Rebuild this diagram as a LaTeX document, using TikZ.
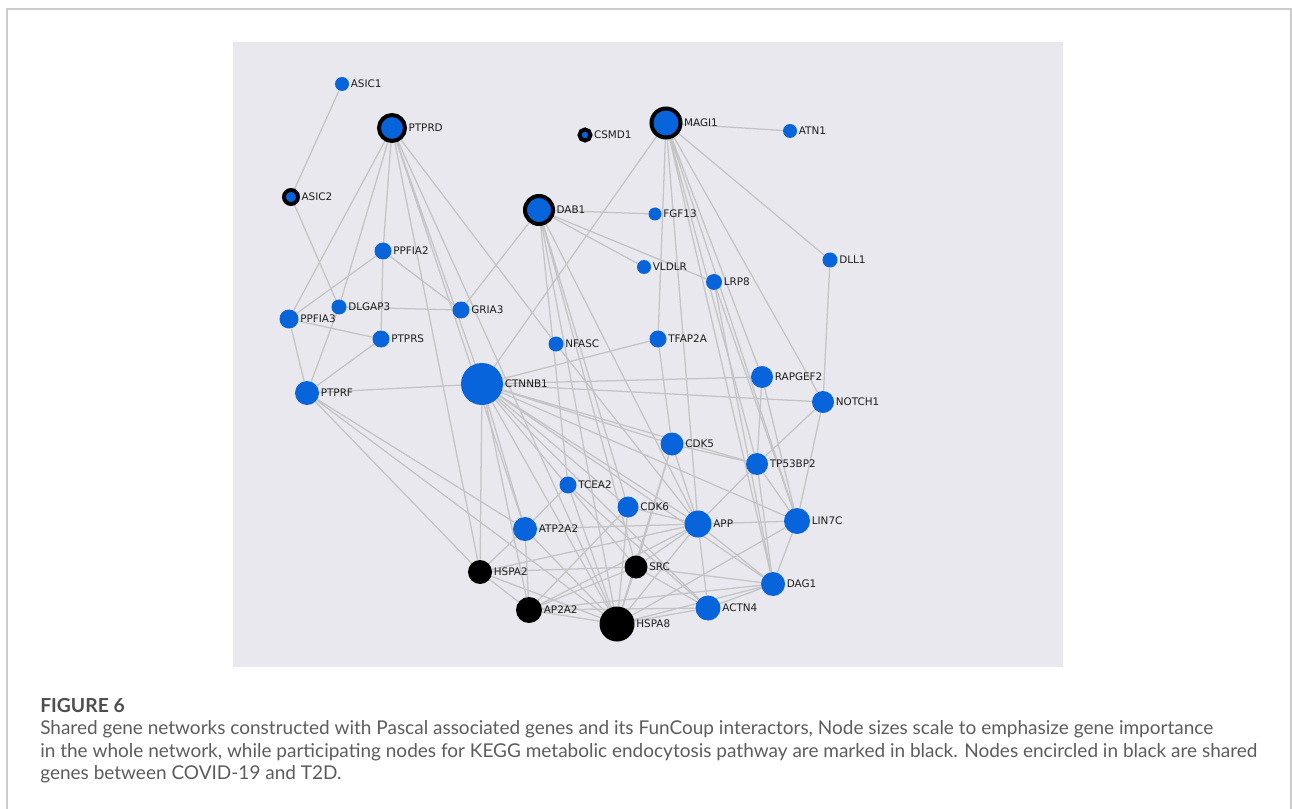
\documentclass[tikz,border=0pt]{standalone}
\usepackage{fontspec}
\setmainfont{Lato}
\newfontfamily\genefont{DejaVu Sans}
\usepackage{xcolor}
\definecolor{geneblue}{RGB}{8,100,218}
\definecolor{panelgray}{RGB}{232,232,238}
\definecolor{edgegray}{RGB}{196,196,198}
\definecolor{labeltext}{RGB}{30,30,30}
\definecolor{captext}{RGB}{92,92,92}
\definecolor{framegray}{RGB}{204,204,204}
\pgfdeclarelayer{bg}
\pgfsetlayers{bg,main}
\tikzset{>=latex}

\begin{document}
\begin{tikzpicture}[x=0.75pt,y=-0.75pt,
	gene/.style={circle, fill=geneblue, inner sep=0pt, minimum size=#1*1.5pt},
	shared/.style={gene=#1, draw=black, line width=3pt},
	kegg/.style={gene=#1, fill=black},
	edge/.style={draw=edgegray, line width=0.95pt},
	lbl/.style={font=\genefont\fontsize{7.8}{9}\selectfont, text=labeltext, inner sep=1pt},
	capline/.style={anchor=base west, font=\fontsize{14.25}{17}\selectfont, text=captext, inner sep=0pt}]
		\useasboundingbox (0,0) rectangle (1292,809);
		\draw[framegray, line width=0.8pt] (7,815) -- (7,9) -- (1291,9) -- (1291,815);
		\node[gene=7, label={[lbl]right:ASIC1}] (ASIC1) at (342,84) {};
		\node[shared=13, label={[lbl]right:PTPRD}] (PTPRD) at (392,128) {};
		\node[shared=5.5, label={[lbl]right:CSMD1}] (CSMD1) at (585,135) {};
		\node[shared=14.5, label={[lbl]right:MAGI1}] (MAGI1) at (666,123) {};
		\node[gene=7, label={[lbl]right:ATN1}] (ATN1) at (790,131) {};
		\node[shared=7, label={[lbl]right:ASIC2}] (ASIC2) at (291,197) {};
		\node[shared=14, label={[lbl]right:DAB1}] (DAB1) at (539,210) {};
		\node[gene=6.5, label={[lbl]right:FGF13}] (FGF13) at (655,214) {};
		\node[gene=8.5, label={[lbl]right:PPFIA2}] (PPFIA2) at (383,251) {};
		\node[gene=7, label={[lbl]right:VLDLR}] (VLDLR) at (644,267) {};
		\node[gene=8, label={[lbl]right:LRP8}] (LRP8) at (714,282) {};
		\node[gene=7.5, label={[lbl]right:DLL1}] (DLL1) at (830,260) {};
		\node[gene=7.5, label={[lbl]right:DLGAP3}] (DLGAP3) at (339,307) {};
		\node[gene=8.5, label={[lbl]right:GRIA3}] (GRIA3) at (461,310) {};
		\node[gene=9.5, label={[lbl]right:PPFIA3}] (PPFIA3) at (289,319) {};
		\node[gene=8.5, label={[lbl]right:PTPRS}] (PTPRS) at (381,339) {};
		\node[gene=7.5, label={[lbl]right:NFASC}] (NFASC) at (556,344) {};
		\node[gene=8.5, label={[lbl]right:TFAP2A}] (TFAP2A) at (658,339) {};
		\node[gene=21, label={[lbl]right:CTNNB1}] (CTNNB1) at (482,384) {};
		\node[gene=12, label={[lbl]right:PTPRF}] (PTPRF) at (307,393) {};
		\node[gene=11, label={[lbl]right:RAPGEF2}] (RAPGEF2) at (762,377) {};
		\node[gene=11, label={[lbl]right:NOTCH1}] (NOTCH1) at (823,402) {};
		\node[gene=11.5, label={[lbl]right:CDK5}] (CDK5) at (672,444) {};
		\node[gene=11, label={[lbl]right:TP53BP2}] (TP53BP2) at (757,464) {};
		\node[gene=8.5, label={[lbl]right:TCEA2}] (TCEA2) at (568,485) {};
		\node[gene=10.5, label={[lbl]right:CDK6}] (CDK6) at (628,507) {};
		\node[gene=13.5, label={[lbl]right:APP}] (APP) at (698,524) {};
		\node[gene=13, label={[lbl]right:LIN7C}] (LIN7C) at (797,521) {};
		\node[gene=12, label={[lbl]right:ATP2A2}] (ATP2A2) at (525,529) {};
		\node[kegg=12, label={[lbl]right:HSPA2}] (HSPA2) at (480,572) {};
		\node[kegg=11.5, label={[lbl]right:SRC}] (SRC) at (636,567) {};
		\node[gene=12, label={[lbl]right:DAG1}] (DAG1) at (773,584) {};
		\node[kegg=13, label={[lbl]right:AP2A2}] (AP2A2) at (529,610) {};
		\node[gene=12.5, label={[lbl]right:ACTN4}] (ACTN4) at (708,608) {};
		\node[kegg=17.5, label={[lbl]right:HSPA8}] (HSPA8) at (617,624) {};
		\begin{pgfonlayer}{bg}
		\fill[panelgray] (233,42) rectangle (1063,667);
		\draw[edge] (ASIC1) -- (ASIC2) (ASIC2) -- (DLGAP3);
		\draw[edge] (PTPRD) -- (PPFIA3) (PTPRD) -- (DLGAP3) (DLGAP3) -- (PTPRF) (PTPRD) -- (PPFIA2)
			(PTPRD) -- (CTNNB1) (PTPRD) -- (HSPA2) (PTPRD) -- (ATP2A2) (PTPRD) -- (HSPA8)
			(PTPRD) -- (NFASC) (NFASC) -- (APP);
		\draw[edge] (PPFIA2) -- (PPFIA3) (PPFIA2) -- (PTPRS) (PPFIA2) -- (GRIA3) (DLGAP3) -- (GRIA3)
			(PPFIA3) -- (PTPRS) (PPFIA3) -- (PTPRF) (PTPRS) -- (PTPRF);
		\draw[edge] (PTPRF) -- (CTNNB1) (PTPRF) -- (HSPA2) (PTPRF) -- (HSPA8) (PTPRF) -- (ATP2A2);
		\draw[edge] (GRIA3) -- (DAB1);
		\draw[edge] (MAGI1) -- (CTNNB1) (MAGI1) -- (ATN1) (MAGI1) -- (DLL1) (MAGI1) -- (TFAP2A)
			(MAGI1) -- (APP) (MAGI1) -- (DAG1) (MAGI1) -- (TP53BP2) (MAGI1) -- (LIN7C)
			(MAGI1) -- (RAPGEF2) (MAGI1) -- (NOTCH1);
		\draw[edge] (DAB1) -- (FGF13) (DAB1) -- (VLDLR) (DAB1) -- (LRP8) (DAB1) -- (TCEA2)
			(DAB1) -- (HSPA8) (DAB1) -- (SRC) (DAB1) -- (CDK6) (DAB1) -- (APP);
		\draw[edge] (LRP8) -- (LIN7C) (LRP8) -- (DAG1) (DLL1) -- (NOTCH1)
			(TFAP2A) -- (CTNNB1) (TFAP2A) -- (CDK5);
		\draw[edge] (CTNNB1) -- (RAPGEF2) (CTNNB1) -- (NOTCH1) (CTNNB1) -- (CDK5) (CTNNB1) -- (TP53BP2)
			(CTNNB1) -- (LIN7C) (CTNNB1) -- (APP) (CTNNB1) -- (CDK6) (CTNNB1) -- (DAG1)
			(CTNNB1) -- (HSPA8) (CTNNB1) -- (SRC) (CTNNB1) -- (AP2A2) (CTNNB1) -- (HSPA2)
			(CTNNB1) -- (ATP2A2) (CTNNB1) -- (ACTN4);
		\draw[edge] (RAPGEF2) -- (TP53BP2) (RAPGEF2) -- (LIN7C) (NOTCH1) -- (TP53BP2) (NOTCH1) -- (LIN7C)
			(TP53BP2) -- (APP) (TP53BP2) -- (LIN7C) (TP53BP2) -- (DAG1);
		\draw[edge] (CDK5) -- (TP53BP2) (CDK5) -- (SRC) (CDK5) -- (HSPA8) (CDK5) -- (APP)
			(CDK6) -- (HSPA8) (CDK6) -- (APP) (CDK6) -- (AP2A2);
		\draw[edge] (TCEA2) -- (ATP2A2) (TCEA2) -- (HSPA8) (TCEA2) -- (ACTN4);
		\draw[edge] (APP) -- (LIN7C) (APP) -- (ATP2A2) (APP) -- (SRC) (APP) -- (HSPA8) (APP) -- (AP2A2)
			(APP) -- (ACTN4) (APP) -- (DAG1) (APP) -- (HSPA2);
		\draw[edge] (LIN7C) -- (DAG1) (LIN7C) -- (HSPA8);
		\draw[edge] (SRC) -- (HSPA2) (SRC) -- (DAG1) (SRC) -- (AP2A2) (SRC) -- (HSPA8) (SRC) -- (ACTN4);
		\draw[edge] (HSPA8) -- (AP2A2) (HSPA8) -- (HSPA2) (HSPA8) -- (ACTN4) (HSPA8) -- (DAG1) (HSPA8) -- (ATP2A2);
		\draw[edge] (AP2A2) -- (HSPA2) (AP2A2) -- (ATP2A2) (AP2A2) -- (ACTN4) (AP2A2) -- (DAG1)
			(ATP2A2) -- (HSPA2) (ACTN4) -- (DAG1);
		\end{pgfonlayer}
		\node[capline, font=\fontsize{14.5}{17}\selectfont\bfseries, text=captext!85!black] (figno) at (40,712) {FIGURE 6};
		\node[capline] (capa) at (40,734) {Shared gene networks constructed with Pascal associated genes and its FunCoup interactors, Node sizes scale to emphasize gene importance};
		\node[capline] (capb) at (40,757) {in the whole network, while participating nodes for KEGG metabolic endocytosis pathway are marked in black. Nodes encircled in black are shared};
		\node[capline] (capc) at (40,779) {genes between COVID-19 and T2D.};
	\end{tikzpicture}
\end{document}
